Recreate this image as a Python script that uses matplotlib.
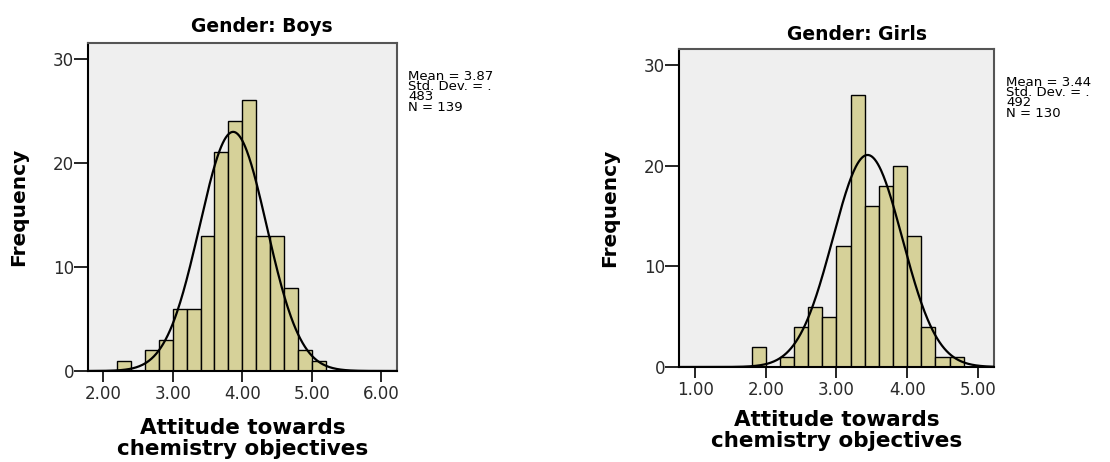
import numpy as np
import matplotlib
matplotlib.use("Agg")
import matplotlib.pyplot as plt

# histogram bins (width 0.2) and counts
boys_edges = [2.2, 2.4, 2.6, 2.8, 3.0, 3.2, 3.4, 3.6, 3.8, 4.0, 4.2, 4.4, 4.6, 4.8, 5.0, 5.2]
boys_counts = [1, 0, 2, 3, 6, 6, 13, 21, 24, 26, 13, 13, 8, 2, 1]
boys_mean, boys_sd, boys_n = 3.87, 0.483, 139

girls_edges = [1.8, 2.0, 2.2, 2.4, 2.6, 2.8, 3.0, 3.2, 3.4, 3.6, 3.8, 4.0, 4.2, 4.4, 4.6, 4.8]
girls_counts = [2, 0, 1, 4, 6, 5, 12, 27, 16, 18, 20, 13, 4, 1, 1]
girls_mean, girls_sd, girls_n = 3.44, 0.492, 130

boys_xticks = [2.0, 3.0, 4.0, 5.0, 6.0]
girls_xticks = [1.0, 2.0, 3.0, 4.0, 5.0]
yticks = [0, 10, 20, 30]

BAR = "#d6d199"
BG = "#efefef"
BOLD = "DejaVu Sans"
REG = "DejaVu Sans"


def panel(fig, rect, edges, counts, mean, sd, n, xticks, xlim, ylim, xpad):
    ax = fig.add_axes(rect)
    ax.set_facecolor(BG)
    edges = np.array(edges)
    widths = np.diff(edges)
    ax.bar(edges[:-1], counts, width=widths, align="edge",
           color=BAR, edgecolor="black", linewidth=1.0, zorder=2)
    bw = widths[0]
    xs = np.linspace(xlim[0], xlim[1], 400)
    ys = n * bw * np.exp(-0.5 * ((xs - mean) / sd) ** 2) / (sd * np.sqrt(2 * np.pi))
    ax.plot(xs, ys, color="black", linewidth=1.6, zorder=3)
    ax.set_xlim(*xlim)
    ax.set_ylim(*ylim)
    ax.set_xticks(xticks)
    ax.set_xticklabels([f"{t:.2f}" for t in xticks], fontfamily=REG, fontsize=12, color="#2a2a2a")
    ax.set_yticks(yticks)
    ax.set_yticklabels([str(t) for t in yticks], fontfamily=REG, fontsize=12, color="#2a2a2a")
    ax.tick_params(axis="y", length=10, width=1.2, pad=0)
    ax.tick_params(axis="x", length=8, width=1.2, pad=2)
    for s in ["top", "right"]:
        ax.spines[s].set_color("#555555")
        ax.spines[s].set_linewidth(1.5)
    for s in ["left", "bottom"]:
        ax.spines[s].set_color("black")
        ax.spines[s].set_linewidth(1.5)
    ax.set_ylabel("Frequency", fontfamily=BOLD, fontweight="bold", fontsize=14.5, labelpad=18)
    ax.set_xlabel("Attitude towards\nchemistry objectives", fontfamily=BOLD,
                  fontweight="bold", fontsize=15.5, labelpad=xpad, linespacing=1.08)
    return ax


fig = plt.figure(figsize=(11.1, 4.62), dpi=100)

ax1 = panel(fig, [0.0793, 0.197, 0.2784, 0.710], boys_edges, boys_counts,
            boys_mean, boys_sd, boys_n, boys_xticks, (1.78, 6.23), (0, 31.5), 11)
ax2 = panel(fig, [0.6117, 0.2056, 0.2838, 0.688], girls_edges, girls_counts,
            girls_mean, girls_sd, girls_n, girls_xticks, (0.77, 5.23), (0, 31.6), 8)

fig.text(262 / 1110, 1 - 27 / 462, "Gender: Boys", ha="center", va="center",
         fontfamily=BOLD, fontweight="bold", fontsize=13.5)
fig.text(857 / 1110, 1 - 35 / 462, "Gender: Girls", ha="center", va="center",
         fontfamily=BOLD, fontweight="bold", fontsize=13.5)

stats_b = f"Mean = {boys_mean:.2f}\nStd. Dev. = .\n{str(boys_sd)[2:]}\nN = {boys_n}"
stats_g = f"Mean = {girls_mean:.2f}\nStd. Dev. = .\n{str(girls_sd)[2:]}\nN = {girls_n}"
fig.text(408 / 1110, 1 - 70 / 462, stats_b, ha="left", va="top",
         fontfamily=REG, fontsize=9.5, linespacing=0.72)
fig.text(1006 / 1110, 1 - 76 / 462, stats_g, ha="left", va="top",
         fontfamily=REG, fontsize=9.5, linespacing=0.72)

fig.savefig("out.png", dpi=100, facecolor="white")
